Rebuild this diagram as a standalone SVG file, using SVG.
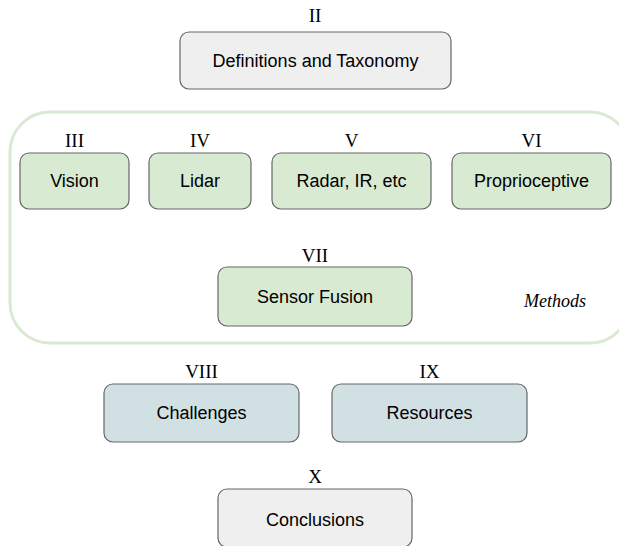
<svg xmlns="http://www.w3.org/2000/svg" width="619" height="546" viewBox="0 0 619 546">
<style>
.box{stroke:#666666;stroke-width:1.2}
.gray{fill:#efefef}
.green{fill:#d9ead3}
.blue{fill:#d0e0e3}
.lbl{font-family:"Liberation Sans",Arial,sans-serif;font-size:18px;fill:#000;text-anchor:middle}
.num{font-family:"Liberation Serif","Times New Roman",serif;font-size:19px;fill:#000;text-anchor:middle}
.grp{fill:none;stroke:#d9ead3;stroke-width:3}
</style>
<rect fill="#ffffff" x="0" y="0" width="619" height="546"/>
<g id="methods-group">
<rect class="grp" x="10" y="112" width="620" height="231" rx="40" ry="40"/>
<text x="555" y="307" font-family="Liberation Serif,'Times New Roman',serif" font-style="italic" font-size="18" text-anchor="middle">Methods</text>
</g>
<g id="definitions">
<text class="num" x="315" y="22">II</text>
<rect class="box gray" x="180" y="32" width="271" height="57" rx="9"/>
<text class="lbl" x="315.5" y="67">Definitions and Taxonomy</text>
</g>
<g id="vision">
<text class="num" x="74.5" y="147">III</text>
<rect class="box green" x="20" y="153" width="109" height="56" rx="9"/>
<text class="lbl" x="74.5" y="187">Vision</text>
</g>
<g id="lidar">
<text class="num" x="200" y="147">IV</text>
<rect class="box green" x="149" y="153" width="102" height="56" rx="9"/>
<text class="lbl" x="200" y="187">Lidar</text>
</g>
<g id="radar">
<text class="num" x="351.5" y="147">V</text>
<rect class="box green" x="272" y="153" width="159" height="56" rx="9"/>
<text class="lbl" x="351.5" y="187">Radar, IR, etc</text>
</g>
<g id="proprioceptive">
<text class="num" x="531.5" y="147">VI</text>
<rect class="box green" x="452" y="153" width="159" height="56" rx="9"/>
<text class="lbl" x="531.5" y="187">Proprioceptive</text>
</g>
<g id="sensor-fusion">
<text class="num" x="315" y="262">VII</text>
<rect class="box green" x="218" y="267" width="194" height="59" rx="9"/>
<text class="lbl" x="315" y="303">Sensor Fusion</text>
</g>
<g id="challenges">
<text class="num" x="201.5" y="378">VIII</text>
<rect class="box blue" x="104" y="384" width="195" height="58" rx="9"/>
<text class="lbl" x="201.5" y="419">Challenges</text>
</g>
<g id="resources">
<text class="num" x="429.5" y="378">IX</text>
<rect class="box blue" x="332" y="384" width="195" height="58" rx="9"/>
<text class="lbl" x="429.5" y="419">Resources</text>
</g>
<g id="conclusions">
<text class="num" x="315" y="483">X</text>
<rect class="box gray" x="218" y="489" width="194" height="58" rx="9"/>
<text class="lbl" x="315" y="526">Conclusions</text>
</g>
<g id="connectors"></g>
</svg>
